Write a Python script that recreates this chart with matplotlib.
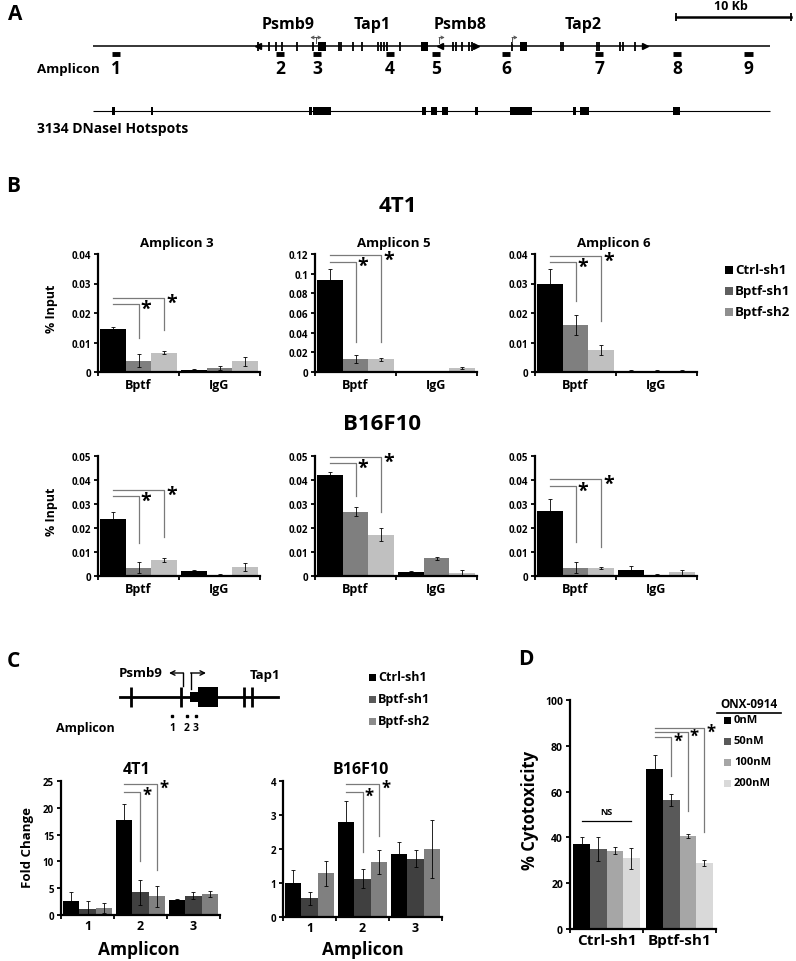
import numpy as np
import matplotlib
matplotlib.use('Agg')
import matplotlib.pyplot as plt
from matplotlib.patches import Rectangle
from matplotlib.ticker import FuncFormatter

W, H = 796, 962
plt.rcParams['font.family'] = ['Open Sans', 'DejaVu Sans']
plt.rcParams['font.weight'] = 'bold'
plt.rcParams['axes.labelweight'] = 'bold'

# ---------------- data ----------------
locus_len_kb = 58.9
scale_bar_kb = 10
amplicon_ids = ['1', '2', '3', '4', '5', '6', '7', '8', '9']
amplicon_kb = [2.0, 16.3, 19.5, 25.8, 29.8, 35.9, 44.0, 50.8, 57.0]
exon_kb = [14.35, 15.30, 15.91, 16.43, 17.74, 19.13, 21.39, 21.57, 22.61, 23.39,
           24.78, 25.04, 25.30, 25.57, 26.70, 31.30, 31.57, 32.09, 32.70, 32.96,
           36.43, 40.70, 40.87, 43.83, 44.00, 45.83, 46.09, 47.13]
exon_box_kb = [(19.57, 20.26), (28.52, 29.13), (37.13, 37.74)]
gene_end_left_kb = [14.35, 30.17]
gene_end_right_kb = [33.30, 48.0]
promoter_kb = [(19.39, -1), (19.39, 1), (30.09, 1), (36.43, 1)]
gene_names = ['Psmb9', 'Tap1', 'Psmb8', 'Tap2']
gene_label_kb = [16.96, 24.26, 31.9, 42.6]
hotspot_kb = [(1.65, 1.91), (5.04, 5.22), (18.78, 19.04), (19.13, 20.70), (28.61, 28.96),
              (29.39, 29.91), (30.35, 30.87), (33.22, 33.48), (36.26, 38.17),
              (41.74, 42.0), (42.35, 43.13), (50.43, 51.04)]

b_groups = ['Bptf', 'IgG']
b_series = ['Ctrl-sh1', 'Bptf-sh1', 'Bptf-sh2']
b_titles = ['Amplicon 3', 'Amplicon 5', 'Amplicon 6']
t4_amp3 = [[0.0145, 0.0008], [0.0038, 0.0014], [0.0066, 0.0036]]
t4_amp3_err = [[0.0008, 0.0002], [0.0022, 0.0008], [0.0005, 0.0016]]
t4_amp5 = [[0.094, 0.001], [0.013, 0.0005], [0.013, 0.004]]
t4_amp5_err = [[0.011, 0.0005], [0.004, 0.0003], [0.0015, 0.001]]
t4_amp6 = [[0.030, 0.0004], [0.016, 0.0003], [0.0075, 0.0004]]
t4_amp6_err = [[0.0048, 0.0003], [0.0033, 0.0004], [0.0017, 0.0003]]
b16_amp3 = [[0.0237, 0.0019], [0.0035, 0.0006], [0.0065, 0.0038]]
b16_amp3_err = [[0.003, 0.0005], [0.0022, 0.0003], [0.0008, 0.0017]]
b16_amp5 = [[0.042, 0.0018], [0.0268, 0.0073], [0.0172, 0.0012]]
b16_amp5_err = [[0.0015, 0.0001], [0.0018, 0.0005], [0.0028, 0.0015]]
b16_amp6 = [[0.027, 0.0023], [0.0035, 0.0006], [0.0033, 0.0015]]
b16_amp6_err = [[0.005, 0.0018], [0.0022, 0.0003], [0.0005, 0.001]]
t4_amp3_sig = [(1, 0.023, 0.0115), (2, 0.0251, 0.0142)]
t4_amp5_sig = [(1, 0.112, 0.0305), (2, 0.119, 0.0305)]
t4_amp6_sig = [(1, 0.0373, 0.024), (2, 0.0393, 0.0173)]
b16_amp3_sig = [(1, 0.0333, 0.0138), (2, 0.0358, 0.0163)]
b16_amp5_sig = [(1, 0.047, 0.0333), (2, 0.0496, 0.0267)]
b16_amp6_sig = [(1, 0.0375, 0.0142), (2, 0.0404, 0.012)]

c_amplicons = ['1', '2', '3']
c_4t1 = [[2.7, 17.7, 2.8], [1.2, 4.2, 3.6], [1.3, 3.5, 3.9]]
c_4t1_err = [[1.5, 3.0, 0.2], [1.5, 2.4, 0.7], [1.0, 2.0, 0.6]]
c_b16 = [[1.0, 2.8, 1.85], [0.55, 1.13, 1.72], [1.28, 1.62, 2.0]]
c_b16_err = [[0.38, 0.6, 0.35], [0.2, 0.27, 0.25], [0.38, 0.35, 0.85]]
c_4t1_sig = [(1, 23.0, 10.1), (2, 24.4, 8.4)]
c_b16_sig = [(1, 3.68, 1.91), (2, 3.91, 2.38)]

d_groups = ['Ctrl-sh1', 'Bptf-sh1']
d_doses = ['0nM', '50nM', '100nM', '200nM']
d_means = [[37.0, 70.0], [35.0, 56.3], [34.2, 40.5], [30.8, 28.9]]
d_errs = [[3.0, 6.0], [5.3, 2.8], [1.4, 0.8], [4.5, 1.2]]
d_sig = [(1, 83.8, 66.8), (2, 86.0, 51.5), (3, 87.8, 42.4)]
d_ns_y = 47

# ---------------- styles ----------------
b_colors = ['#000000', '#7f7f7f', '#c0c0c0']
b_leg_colors = ['#000000', '#5f5f5f', '#8f8f8f']
c_colors = ['#000000', '#404040', '#808080']
c_leg_colors = ['#000000', '#5a5a5a', '#8c8c8c']
d_colors = ['#000000', '#595959', '#a6a6a6', '#d9d9d9']
sig_color = '#7a7a7a'

fig = plt.figure(figsize=(W / 100, H / 100), dpi=100)

ov = fig.add_axes([0, 0, 1, 1])
ov.set_xlim(0, W)
ov.set_ylim(H, 0)
ov.axis('off')
ov.set_zorder(-1)


def pxax(x0, y0, x1, y1):
    return fig.add_axes([x0 / W, 1 - y1 / H, (x1 - x0) / W, (y1 - y0) / H])


def grouped(ax, centers, means, errs, colors, width):
    k = len(means)
    offs = (np.arange(k) - (k - 1) / 2) * width
    for i in range(k):
        ax.bar(np.array(centers) + offs[i], means[i], width, color=colors[i],
               yerr=errs[i], error_kw=dict(elinewidth=0.6, capsize=1.6, capthick=0.6,
                                           ecolor='black'), zorder=2)
    return offs


def brackets(ax, x_center, offs, sigs, star_fs, star_dy=4):
    for (j, yl, yb) in sigs:
        xs = x_center + offs[0]
        xt = x_center + offs[j]
        ax.plot([xs, xt, xt], [yl, yl, yb], color=sig_color, lw=0.9,
                clip_on=False, zorder=3)
        ax.annotate('*', xy=(xt, yl), xytext=(1.5, star_dy), textcoords='offset points',
                    ha='left', va='top', fontsize=star_fs, fontweight='bold',
                    annotation_clip=False)


def style(ax, ylim, yticks, ylab_fs, cat_centers, cat_labels, bounds, xlab_fs, xpad=4):
    ax.set_ylim(*ylim)
    ax.set_yticks(yticks)
    ax.yaxis.set_major_formatter(FuncFormatter(lambda v, p: '%g' % v))
    for s in ['top', 'right']:
        ax.spines[s].set_visible(False)
    for s in ['left', 'bottom']:
        ax.spines[s].set_linewidth(1.6)
    ax.tick_params(axis='y', direction='out', length=3, width=1.3,
                   labelsize=ylab_fs, pad=2)
    ax.set_xticks(cat_centers)
    ax.set_xticklabels(cat_labels, fontsize=xlab_fs, fontweight='bold')
    ax.tick_params(axis='x', which='major', length=0, pad=xpad)
    ax.set_xticks(bounds, minor=True)
    ax.tick_params(axis='x', which='minor', direction='out', length=3, width=1.3)
    ax.set_xlim(bounds[0], bounds[-1])
    for t in ax.get_yticklabels():
        t.set_fontweight('bold')
    ax.patch.set_visible(False)


# ---------------- Panel A ----------------
pxkb = 11.5
axA = fig.add_axes([0, 1 - 140 / H, 1, 140 / H])
axA.set_xlim(-93 / pxkb, (W - 93) / pxkb)
axA.set_ylim(140, 0)
axA.axis('off')
axA.hlines(47, 0, locus_len_kb, color='black', lw=1.1)
axA.vlines(exon_kb, 42.5, 51.5, color='black', lw=1.3)
for a, b in exon_box_kb:
    axA.add_patch(Rectangle((a, 42.5), b - a, 9, color='black', lw=0))
axA.plot(gene_end_left_kb, [47] * len(gene_end_left_kb), '<', color='black', ms=4.5)
axA.plot(gene_end_right_kb, [47] * len(gene_end_right_kb), '>', color='black', ms=4.5)
for x, d in promoter_kb:
    axA.plot([x, x], [44, 38.5], color='#555555', lw=0.7)
    axA.annotate('', xy=(x + d * 0.5, 38.5), xytext=(x, 38.5),
                 arrowprops=dict(arrowstyle='->', lw=0.7, color='#555555',
                                 mutation_scale=5, shrinkA=0, shrinkB=0))
for name, x in zip(gene_names, gene_label_kb):
    axA.text(x, 25, name, ha='center', va='center', fontsize=11.5)
axA.hlines([54.5] * len(amplicon_kb), np.array(amplicon_kb) - 0.35,
           np.array(amplicon_kb) + 0.35, color='black', lw=3.5)
for lab, x in zip(amplicon_ids, amplicon_kb):
    axA.text(x, 69.5, lab, ha='center', va='center', fontsize=12.5)
axA.text(37 / pxkb - 93 / pxkb, 69, 'Amplicon', ha='left', va='center', fontsize=9.6)
axA.hlines(112, 0, locus_len_kb, color='black', lw=0.8)
for a, b in hotspot_kb:
    axA.add_patch(Rectangle((a, 108), b - a, 8, color='black', lw=0))
axA.text(37 / pxkb - 93 / pxkb, 129.5, '3134 DNaseI Hotspots', ha='left', va='center',
         fontsize=10)
sb0 = (676 - 93) / pxkb
axA.plot([sb0, sb0 + scale_bar_kb], [18, 18], color='black', lw=1.8)
axA.vlines([sb0, sb0 + scale_bar_kb], 14, 22, color='black', lw=1.3)
axA.text(sb0 + scale_bar_kb / 2 - 0.2, 7, '10 Kb', ha='center', va='center', fontsize=9)

for lab, x, y in [('A', 15, 14), ('B', 13, 187), ('C', 13, 662), ('D', 526, 660)]:
    ov.text(x, y, lab, ha='center', va='center', fontsize=15, fontweight='bold')

# ---------------- Panel B ----------------
ov.text(398, 206, '4T1', ha='center', va='center', fontsize=16)
ov.text(382, 425, 'B16F10', ha='center', va='center', fontsize=16)
b_x = [98, 315, 535]
b_top = [(255, 373), (457, 577)]
b_data = [[(t4_amp3, t4_amp3_err, t4_amp3_sig, (0, 0.04), np.arange(0, 0.041, 0.01)),
           (t4_amp5, t4_amp5_err, t4_amp5_sig, (0, 0.12), np.arange(0, 0.121, 0.02)),
           (t4_amp6, t4_amp6_err, t4_amp6_sig, (0, 0.04), np.arange(0, 0.041, 0.01))],
          [(b16_amp3, b16_amp3_err, b16_amp3_sig, (0, 0.05), np.arange(0, 0.051, 0.01)),
           (b16_amp5, b16_amp5_err, b16_amp5_sig, (0, 0.05), np.arange(0, 0.051, 0.01)),
           (b16_amp6, b16_amp6_err, b16_amp6_sig, (0, 0.05), np.arange(0, 0.051, 0.01))]]
bw = 0.32
for r, (y0, y1) in enumerate(b_top):
    for c, x0 in enumerate(b_x):
        m, e, sg, yl, yt = b_data[r][c]
        ax = pxax(x0, y0, x0 + 162, y1)
        offs = grouped(ax, [0, 1], m, e, b_colors, bw)
        brackets(ax, 0, offs, sg, 14)
        style(ax, yl, yt, 7, [0, 1], b_groups, [-0.5, 0.5, 1.5], 9, xpad=4)
        if r == 0:
            ov.text(x0 + 79, 243, b_titles[c], ha='center', va='center', fontsize=9.5)
    ov.text(51, (y0 + y1) / 2 - 5, '% Input', rotation=90, ha='center', va='center',
            fontsize=9)
for i, (lab, col) in enumerate(zip(b_series, b_leg_colors)):
    yy = 271 + 21 * i
    ov.add_patch(Rectangle((725, yy - 4), 8, 8, color=col, lw=0))
    ov.text(735, yy, lab, ha='left', va='center', fontsize=9.5)

# ---------------- Panel C ----------------
ov.plot([120, 278], [698, 698], color='black', lw=2)
ov.vlines([131, 181, 244, 252], 688, 708, color='black', lw=2)
ov.add_patch(Rectangle((190, 693), 8, 10, color='black', lw=0))
ov.add_patch(Rectangle((198, 688), 20, 20, color='black', lw=0))
ov.plot([183, 183], [687, 674], color='black', lw=1)
ov.annotate('', xy=(169, 674), xytext=(183.4, 674),
            arrowprops=dict(arrowstyle='->', lw=1, color='black', mutation_scale=8,
                            shrinkA=0, shrinkB=0))
ov.plot([191, 191], [690, 674], color='black', lw=1)
ov.annotate('', xy=(206, 674), xytext=(190.6, 674),
            arrowprops=dict(arrowstyle='->', lw=1, color='black', mutation_scale=8,
                            shrinkA=0, shrinkB=0))
ov.text(141, 674, 'Psmb9', ha='center', va='center', fontsize=9.5)
ov.text(265, 676, 'Tap1', ha='center', va='center', fontsize=9.5)
c_amp_px = [172, 187, 196]
ov.plot(c_amp_px, [717] * 3, 's', color='black', ms=2)
for lab, x in zip(c_amplicons, c_amp_px):
    ov.text(x, 729, lab, ha='center', va='center', fontsize=7.5)
ov.text(115, 729, 'Amplicon', ha='right', va='center', fontsize=9)
for i, (lab, col) in enumerate(zip(b_series, c_leg_colors)):
    yy = 678 + 22 * i
    ov.add_patch(Rectangle((369, yy - 3.5), 7, 7, color=col, lw=0))
    ov.text(378, yy, lab, ha='left', va='center', fontsize=9)

cw = 0.31
for x0, m, e, sg, yl, yt, title, tx, y0, y1 in [
        (61, c_4t1, c_4t1_err, c_4t1_sig, (0, 25), np.arange(0, 26, 5), '4T1', 137, 782, 916),
        (283, c_b16, c_b16_err, c_b16_sig, (0, 4), np.arange(0, 5, 1), 'B16F10', 361, 782, 918)]:
    ax = pxax(x0, y0, x0 + 159, y1)
    offs = grouped(ax, [1, 2, 3], m, e, c_colors, cw)
    brackets(ax, 2, offs, sg, 12)
    style(ax, yl, yt, 7, [1, 2, 3], c_amplicons, [0.5, 1.5, 2.5, 3.5], 9, xpad=3)
    ov.text(tx, 770, title, ha='center', va='center', fontsize=11.5)
    ov.text(tx + 2, 950, 'Amplicon', ha='center', va='center', fontsize=12.5)
ov.text(28, 848, 'Fold Change', rotation=90, ha='center', va='center', fontsize=9.5)

# ---------------- Panel D ----------------
axD = pxax(570, 701, 716, 930)
dw = 0.227
offs = grouped(axD, [0, 1], d_means, d_errs, d_colors, dw)
brackets(axD, 1, offs, d_sig, 12)
axD.plot([0 + offs[0], 0 + offs[3]], [d_ns_y, d_ns_y], color='black', lw=0.9, zorder=3)
axD.text(0 + (offs[0] + offs[3]) / 2, d_ns_y + 2.5, 'NS', ha='center', va='bottom',
         fontsize=6.5)
style(axD, (0, 100), np.arange(0, 101, 20), 7.5, [0, 1], d_groups, [-0.5, 0.5, 1.5], 11,
      xpad=3)
ov.text(530, 810, '% Cytotoxicity', rotation=90, ha='center', va='center', fontsize=12)
ov.text(749, 705, 'ONX-0914', ha='center', va='center', fontsize=8.5)
ov.plot([717, 781], [714, 714], color='black', lw=1.2)
for i, (lab, col) in enumerate(zip(d_doses, d_colors)):
    yy = 721 + 21 * i
    ov.add_patch(Rectangle((724, yy - 3.5), 7, 7, color=col, lw=0))
    ov.text(734, yy, lab, ha='left', va='center', fontsize=8)

fig.savefig('out.png', dpi=100)
